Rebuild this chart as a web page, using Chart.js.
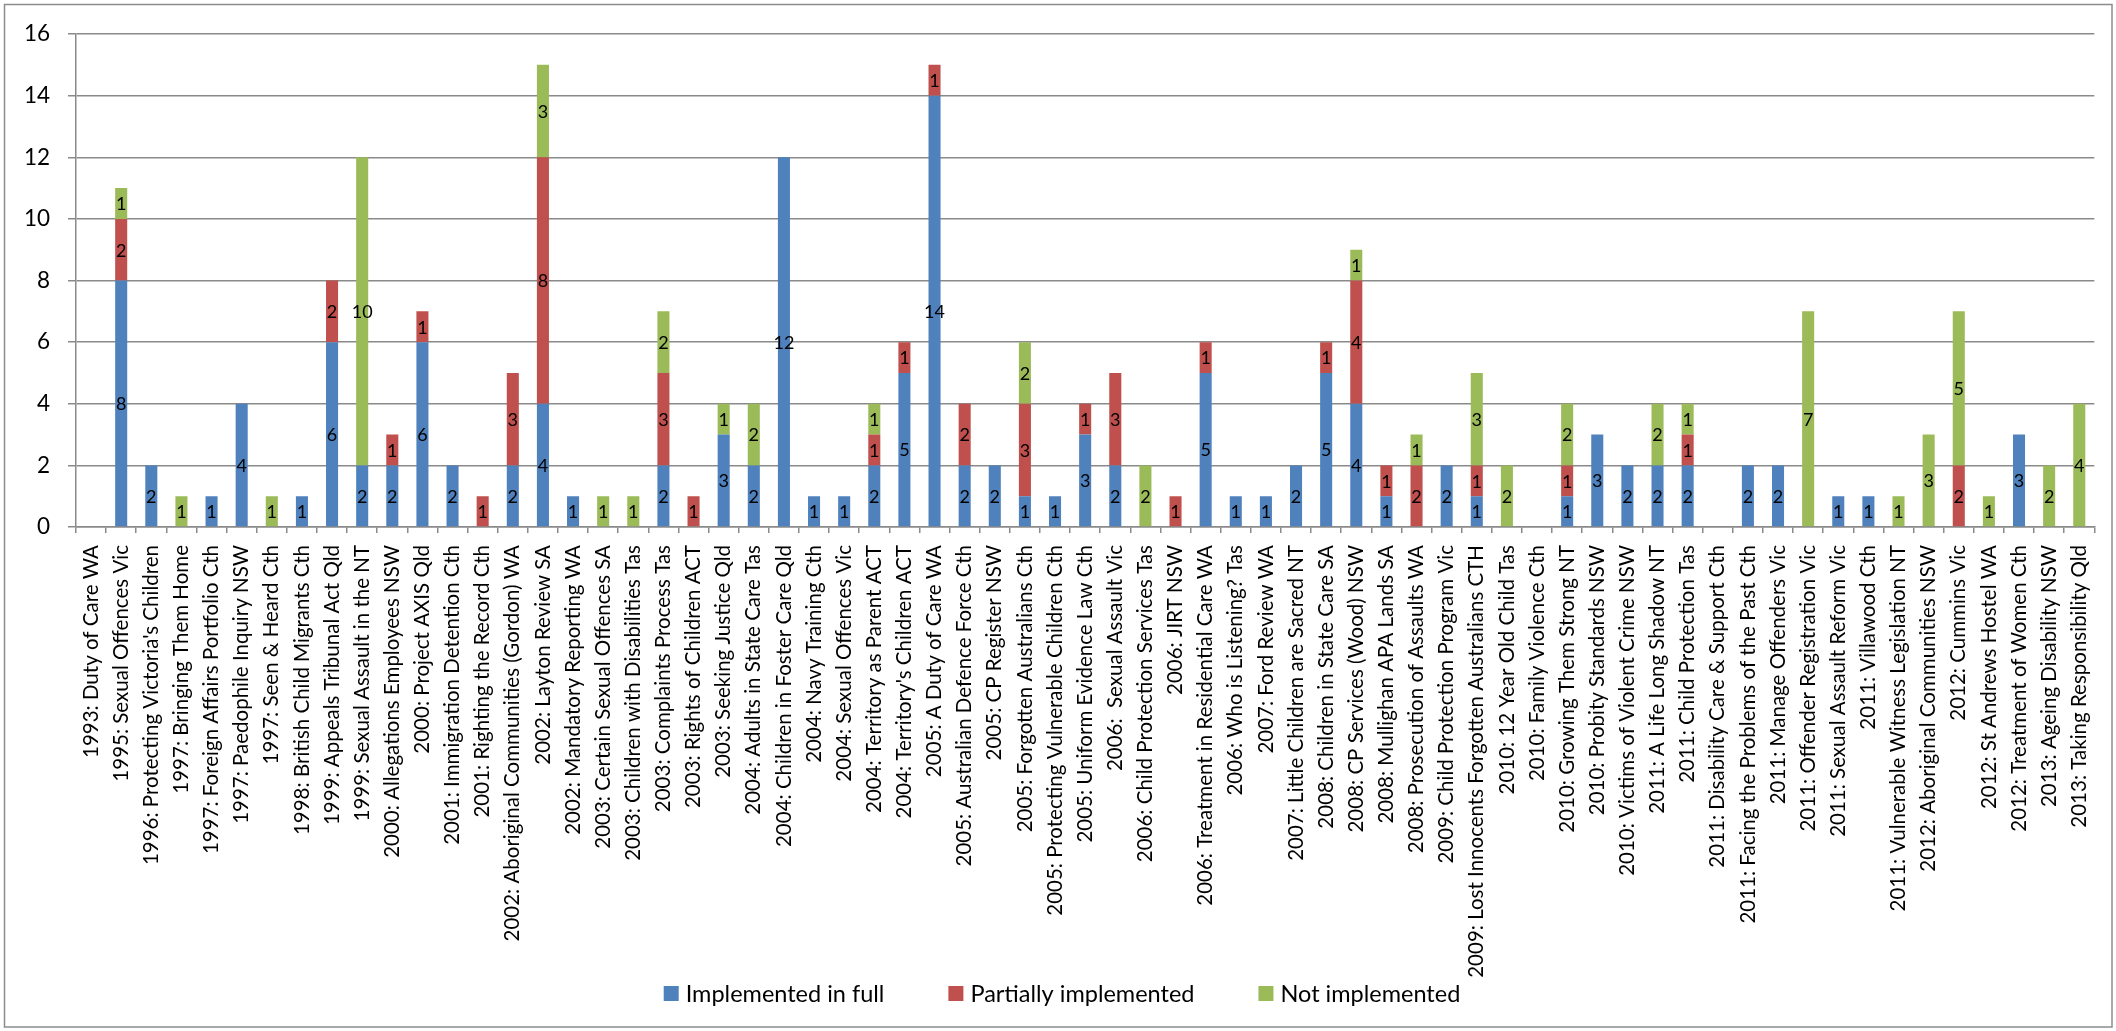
<!DOCTYPE html>
<html>
<head>
<meta charset="utf-8">
<title>Implementation of inquiry recommendations</title>
<script src="https://cdn.jsdelivr.net/npm/chart.js@4/dist/chart.umd.min.js"></script>
<style>
  html, body { margin: 0; padding: 0; background: #fff; }
  canvas { display: block; }
</style>
</head>
<body>
<canvas id="chart" width="2116" height="1031"></canvas>
<script>
// Inquiries, in the order they appear along the axis
const inquiries = [
  "1993: Duty of Care WA",
  "1995: Sexual Offences Vic",
  "1996: Protecting Victoria's Children",
  "1997: Bringing Them Home",
  "1997: Foreign Affairs Portfolio Cth",
  "1997: Paedophile Inquiry NSW",
  "1997: Seen & Heard Cth",
  "1998: British Child Migrants Cth",
  "1999: Appeals Tribunal Act Qld",
  "1999: Sexual Assault in the NT",
  "2000: Allegations Employees NSW",
  "2000: Project AXIS Qld",
  "2001: Immigration Detention Cth",
  "2001: Righting the Record Cth",
  "2002: Aboriginal Communities (Gordon) WA",
  "2002: Layton Review SA",
  "2002: Mandatory Reporting WA",
  "2003: Certain Sexual Offences SA",
  "2003: Children with Disabilities Tas",
  "2003: Complaints Process Tas",
  "2003: Rights of Children ACT",
  "2003: Seeking Justice Qld",
  "2004: Adults in State Care Tas",
  "2004: Children in Foster Care Qld",
  "2004: Navy Training Cth",
  "2004: Sexual Offences Vic",
  "2004: Territory as Parent ACT",
  "2004: Territory's Children ACT",
  "2005: A Duty of Care WA",
  "2005: Australian Defence Force Cth",
  "2005: CP Register NSW",
  "2005: Forgotten Australians Cth",
  "2005: Protecting Vulnerable Children Cth",
  "2005: Uniform Evidence Law Cth",
  "2006:  Sexual Assault Vic",
  "2006: Child Protection Services Tas",
  "2006: JIRT NSW",
  "2006: Treatment in Residential Care WA",
  "2006: Who is Listening? Tas",
  "2007: Ford Review WA",
  "2007: Little Children are Sacred NT",
  "2008: Children in State Care SA",
  "2008: CP Services (Wood) NSW",
  "2008: Mullighan APA Lands SA",
  "2008: Prosecution of Assaults WA",
  "2009: Child Protection Program Vic",
  "2009: Lost Innocents Forgotten Australians CTH",
  "2010: 12 Year Old Child Tas",
  "2010: Family Violence Cth",
  "2010: Growing Them Strong NT",
  "2010: Probity Standards NSW",
  "2010: Victims of Violent Crime NSW",
  "2011: A Life Long Shadow NT",
  "2011: Child Protection Tas",
  "2011: Disability Care & Support Cth",
  "2011: Facing the Problems of the Past Cth",
  "2011: Manage Offenders Vic",
  "2011: Offender Registration Vic",
  "2011: Sexual Assault Reform Vic",
  "2011: Villawood Cth",
  "2011: Vulnerable Witness Legislation NT",
  "2012: Aboriginal Communities NSW",
  "2012: Cummins Vic",
  "2012: St Andrews Hostel WA",
  "2012: Treatment of Women Cth",
  "2013: Ageing Disability NSW",
  "2013: Taking Responsibility Qld"
];

// Number of recommendations per inquiry, by outcome
const implementedInFull = [
  0, 8, 2, 0, 1, 4, 0, 1, 6, 2,
  2, 6, 2, 0, 2, 4, 1, 0, 0, 2,
  0, 3, 2, 12, 1, 1, 2, 5, 14, 2,
  2, 1, 1, 3, 2, 0, 0, 5, 1, 1,
  2, 5, 4, 1, 0, 2, 1, 0, 0, 1,
  3, 2, 2, 2, 0, 2, 2, 0, 1, 1,
  0, 0, 0, 0, 3, 0, 0
];
const partiallyImplemented = [
  0, 2, 0, 0, 0, 0, 0, 0, 2, 0,
  1, 1, 0, 1, 3, 8, 0, 0, 0, 3,
  1, 0, 0, 0, 0, 0, 1, 1, 1, 2,
  0, 3, 0, 1, 3, 0, 1, 1, 0, 0,
  0, 1, 4, 1, 2, 0, 1, 0, 0, 1,
  0, 0, 0, 1, 0, 0, 0, 0, 0, 0,
  0, 0, 2, 0, 0, 0, 0
];
const notImplemented = [
  0, 1, 0, 1, 0, 0, 1, 0, 0, 10,
  0, 0, 0, 0, 0, 3, 0, 1, 1, 2,
  0, 1, 2, 0, 0, 0, 1, 0, 0, 0,
  0, 2, 0, 0, 0, 2, 0, 0, 0, 0,
  0, 0, 1, 0, 1, 0, 3, 2, 0, 2,
  0, 0, 2, 1, 0, 0, 0, 7, 0, 0,
  1, 3, 5, 1, 0, 2, 4
];

const seriesNames = ["Implemented in full", "Partially implemented", "Not implemented"];
const seriesColors = ["#4F81BD", "#C0504D", "#9BBB59"];

// Y axis range and spacing
const yMin = 0;
const yMax = 16;
const yStep = 2;

const FONT = "Lato, 'Open Sans', sans-serif";
const GRID = "#8a8a8a";

// Writes each segment's value in the middle of the segment
const segmentValues = {
  id: "segmentValues",
  afterDatasetsDraw(chart) {
    const ctx = chart.ctx;
    ctx.save();
    ctx.font = "18px " + FONT;
    ctx.fillStyle = "#000";
    ctx.textAlign = "center";
    ctx.textBaseline = "middle";
    chart.data.datasets.forEach((ds, di) => {
      const meta = chart.getDatasetMeta(di);
      meta.data.forEach((bar, i) => {
        const v = ds.data[i];
        if (!v) return;
        const p = bar.getCenterPoint();
        ctx.fillText(String(v), p.x, p.y + 1);
      });
    });
    ctx.restore();
  }
};

// Series key centred under the axis labels
const seriesKey = {
  id: "seriesKey",
  afterDraw(chart) {
    const ctx = chart.ctx;
    const box = 15, textGap = 7, itemGap = 64, cy = 993.5;
    ctx.save();
    ctx.font = "23.5px " + FONT;
    const items = chart.data.datasets.map(ds => ({
      text: ds.label,
      color: ds.backgroundColor,
      w: ctx.measureText(ds.label).width
    }));
    const total = items.reduce((s, it) => s + box + textGap + it.w, 0) + itemGap * (items.length - 1);
    let x = chart.width / 2 + 4 - total / 2;
    ctx.textAlign = "left";
    ctx.textBaseline = "middle";
    items.forEach(it => {
      ctx.fillStyle = it.color;
      ctx.fillRect(x, cy - box / 2, box, box);
      ctx.fillStyle = "#000";
      ctx.fillText(it.text, x + box + textGap, cy + 1);
      x += box + textGap + it.w + itemGap;
    });
    ctx.restore();
  }
};

// White page with a thin frame around the whole chart
const frame = {
  id: "frame",
  beforeDraw(chart) {
    const ctx = chart.ctx;
    ctx.save();
    ctx.fillStyle = "#fff";
    ctx.fillRect(0, 0, chart.width, chart.height);
    ctx.restore();
  },
  afterDraw(chart) {
    const ctx = chart.ctx;
    ctx.save();
    ctx.strokeStyle = "#8c8c8c";
    ctx.lineWidth = 1.5;
    ctx.strokeRect(4.5, 4.5, chart.width - 8.5, chart.height - 8.5);
    ctx.restore();
  }
};

function build() {
  const seriesData = [implementedInFull, partiallyImplemented, notImplemented];
  const datasets = seriesNames.map((name, k) => ({
    label: name,
    data: seriesData[k],
    backgroundColor: seriesColors[k],
    borderWidth: 0,
    barPercentage: 0.4,
    categoryPercentage: 1.0
  }));

  new Chart(document.getElementById("chart"), {
    type: "bar",
    data: { labels: inquiries, datasets },
    plugins: [frame, segmentValues, seriesKey],
    options: {
      responsive: false,
      animation: false,
      layout: { padding: { top: 34, right: 18, bottom: 30, left: 0 } },
      plugins: {
        legend: { display: false },
        tooltip: { enabled: false }
      },
      scales: {
        x: {
          stacked: true,
          afterFit(scale) { scale.height = 474; },
          border: { display: true, color: GRID, width: 1.5 },
          grid: {
            offset: true,
            drawOnChartArea: false,
            drawTicks: true,
            tickLength: 6,
            color: GRID,
            lineWidth: 1.5
          },
          ticks: {
            autoSkip: false,
            maxRotation: 90,
            minRotation: 90,
            padding: 12,
            color: "#000",
            font: { family: FONT, size: 20.5 }
          }
        },
        y: {
          stacked: true,
          min: yMin,
          max: yMax,
          afterFit(scale) { scale.width = 76; },
          border: { display: true, color: GRID, width: 1.5 },
          grid: {
            color: GRID,
            lineWidth: 1.5,
            tickLength: 8
          },
          ticks: {
            stepSize: yStep,
            padding: 18,
            color: "#000",
            font: { family: FONT, size: 22.5 }
          }
        }
      }
    }
  });
}

if (document.fonts && document.fonts.load) {
  Promise.all([
    document.fonts.load("21px Lato"),
    document.fonts.load("24px Lato")
  ]).then(build, build);
} else {
  build();
}
</script>
</body>
</html>
